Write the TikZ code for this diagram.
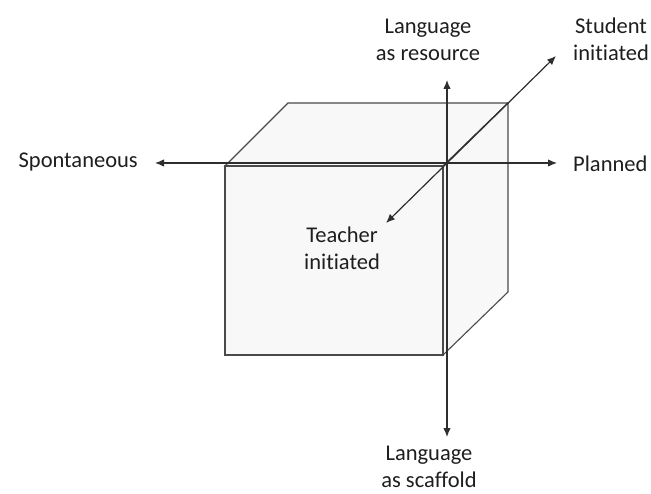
\documentclass[tikz,border=0pt]{standalone}
\usepackage{fontspec}
\setmainfont{Carlito}[Ligatures=NoCommon]
\usetikzlibrary{arrows.meta}
\definecolor{edge}{HTML}{4A4A4A}
\definecolor{axis}{HTML}{2E2E2E}
\definecolor{face}{HTML}{F8F8F8}
\definecolor{txt}{HTML}{1E1E1E}
\begin{document}
\begin{tikzpicture}[x=1pt,y=-1pt,
  cubeface/.style={draw=edge,fill=face,line width=1.1pt,line join=miter},
  axisline/.style={draw=axis,line width=1.2pt,{Latex[length=9pt,width=7.5pt]}-{Latex[length=9pt,width=7.5pt]}},
  lbl/.style={font=\fontsize{22.5}{27}\selectfont,text=txt,inner sep=0pt,align=center}]
\useasboundingbox (0,0) rectangle (651,494);
% cube corners
\coordinate (FTL) at (225,166);
\coordinate (FTR) at (443,166);
\coordinate (FBL) at (225,355);
\coordinate (FBR) at (443,355);
\coordinate (BTL) at (288,103);
\coordinate (BTR) at (508,103);
\coordinate (BBR) at (508,292);
% faces
\draw[cubeface] (FTL) -- (BTL) -- (BTR) -- (FTR) -- cycle;
\draw[cubeface] (FTR) -- (BTR) -- (BBR) -- (FBR) -- cycle;
\draw[cubeface] (FTL) rectangle (FBR);
% axis tips
\coordinate (tl) at (155,163);
\coordinate (tr) at (557,163);
\coordinate (tu) at (447,80);
\coordinate (td) at (447,437);
\coordinate (tf) at (386,223);
\coordinate (tb) at (556,56);
\draw[axisline] (tl) -- (tr);
\draw[axisline] (tu) -- (td);
\draw[axisline] (tf) -- (tb);
% labels
\node[lbl,anchor=east] (spont) at (138,162) {Spontaneous};
\node[lbl,anchor=west] (plan) at (573,164) {Planned};
\node[lbl] (res) at (428,40) {Language\\as resource};
\node[lbl,anchor=west] (stud) at (573,39) {Student\\initiated};
\node[lbl] (teach) at (342,248) {Teacher\\initiated};
\node[lbl] (scaf) at (429,467) {Language\\as scaffold};
\end{tikzpicture}
\end{document}
